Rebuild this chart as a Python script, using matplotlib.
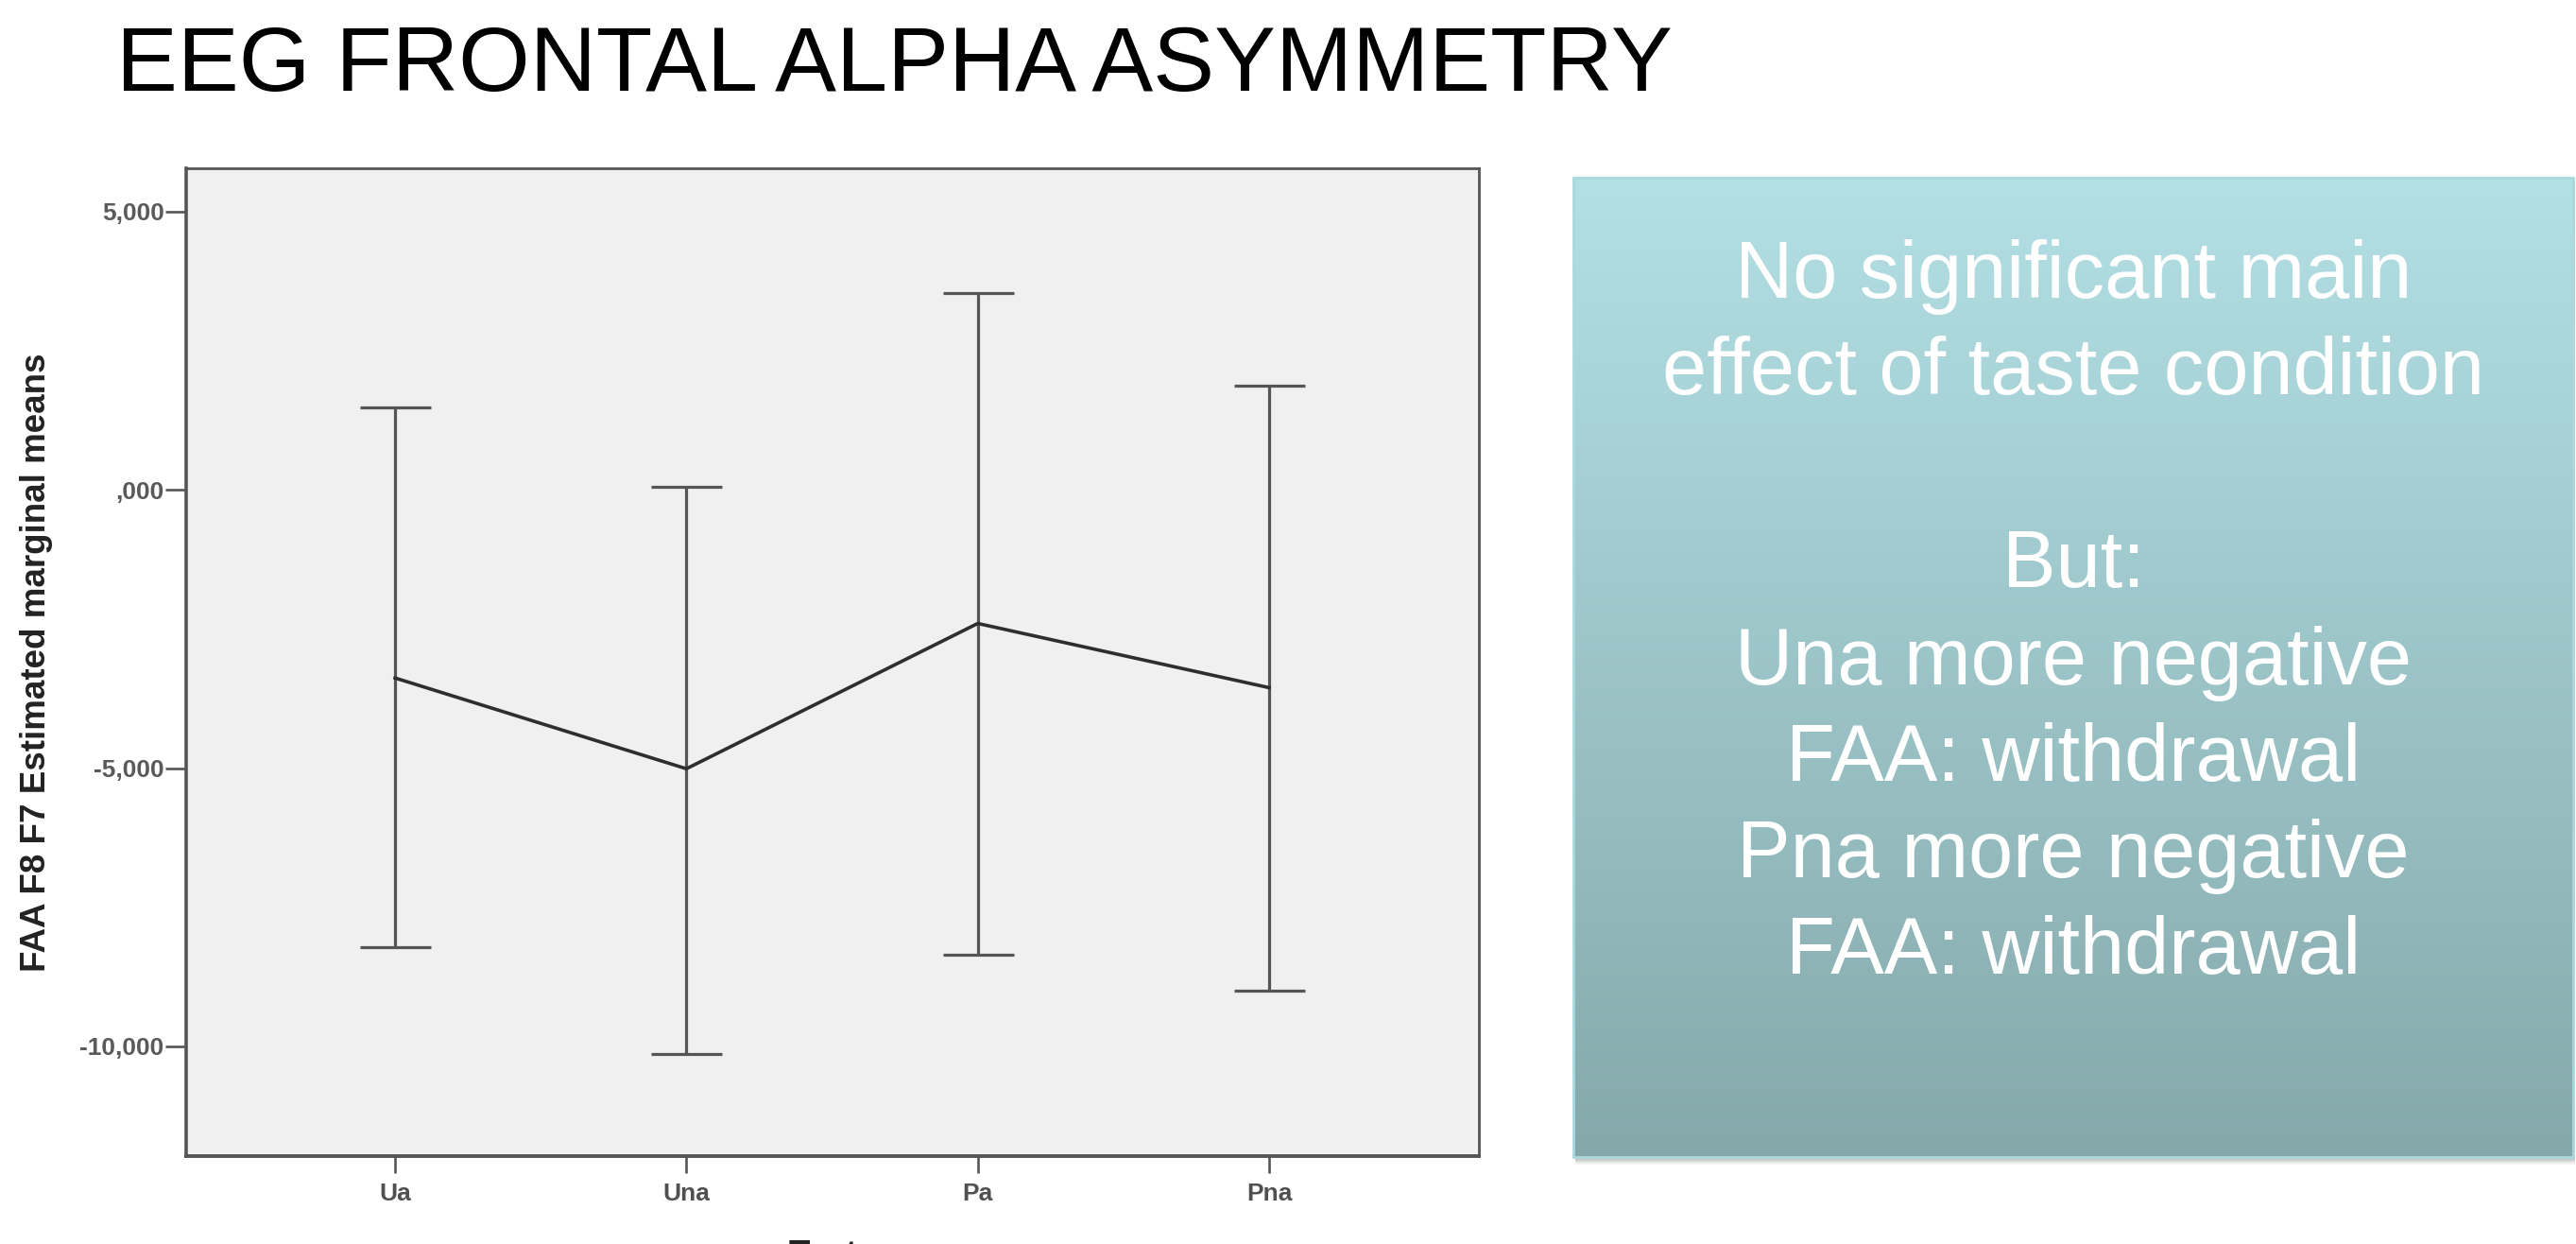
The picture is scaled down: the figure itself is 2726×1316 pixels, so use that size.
import numpy as np
import matplotlib
matplotlib.use("Agg")
import matplotlib.pyplot as plt
from matplotlib import font_manager
from matplotlib.patches import Rectangle

# ---- data ----
categories = ["Ua", "Una", "Pa", "Pna"]
means = [-3379, -5010, -2399, -3553]
ci_lower = [-8213, -10132, -8345, -8996]
ci_upper = [1488, 63, 3542, 1876]
ytick_values = [5000, 0, -5000, -10000]
ytick_labels = ["5,000", ",000", "-5,000", "-10,000"]

title = "EEG FRONTAL ALPHA ASYMMETRY"
ylabel = "FAA F8 F7 Estimated marginal means"
xlabel = "Taste"
box_lines = ["No significant main", "effect of taste condition", "",
             "But:", "Una more negative", "FAA: withdrawal",
             "Pna more negative", "FAA: withdrawal"]

names = {f.name for f in font_manager.fontManager.ttflist}
narrow = "Liberation Sans Narrow" if "Liberation Sans Narrow" in names else "Liberation Sans"
plt.rcParams["font.family"] = ["Liberation Sans", "DejaVu Sans"]

W, H = 2726, 1316
fig = plt.figure(figsize=(W / 100, H / 100), dpi=100)
fig.patch.set_facecolor("white")

def fx(px):
    return px / W

def fy(py):
    return 1 - py / H

# ---- main axes ----
ax_l, ax_r, ax_t, ax_b = 197, 1565, 178, 1223
ax = fig.add_axes([fx(ax_l), fy(ax_b), fx(ax_r - ax_l), (ax_b - ax_t) / H])
ax.set_facecolor("#f0f0f0")

x = np.arange(len(categories))
m = np.array(means, dtype=float)
lo = np.array(ci_lower, dtype=float)
hi = np.array(ci_upper, dtype=float)
ax.errorbar(x, m, yerr=[m - lo, hi - m], fmt="none", ecolor="#555555",
            elinewidth=2.3, capsize=27, capthick=2.3, zorder=2)
ax.plot(x, m, color="#2e2e2e", lw=2.6, zorder=3)

ax.set_xlim(-0.717, 3.72)
ax.set_ylim(-11971, 5781)
ax.set_xticks(x)
ax.set_xticklabels(categories)
ax.set_yticks(ytick_values)
ax.set_yticklabels(ytick_labels)
for s in ax.spines.values():
    s.set_color("#555555")
    s.set_linewidth(2.0)
ax.spines["bottom"].set_linewidth(2.8)
ax.spines["left"].set_linewidth(2.6)
ax.tick_params(axis="y", length=15.8, width=1.9, color="#555555", pad=1,
               labelsize=19, labelcolor="#5a5a5a")
ax.tick_params(axis="x", length=13, width=1.9, color="#555555", pad=7,
               labelsize=19, labelcolor="#505050")
for lab in ax.get_yticklabels() + ax.get_xticklabels():
    lab.set_family([narrow, "DejaVu Sans"])
    lab.set_fontweight("bold")

lab_size = 32 if narrow != "Liberation Sans" else 26.5
fig.text(fx(39), fy(701), ylabel, rotation=90, ha="center", va="center",
         fontsize=lab_size, fontweight="bold", family=[narrow, "DejaVu Sans"],
         color="#222222")
fig.text(fx(881), fy(1311), xlabel, ha="center", va="top",
         fontsize=lab_size, fontweight="bold", family=[narrow, "DejaVu Sans"],
         color="#222222")

# ---- title ----
fig.text(fx(123), fy(96), title, ha="left", va="baseline", fontsize=70,
         color="black")

# ---- gradient text box ----
b_l, b_r, b_t, b_b = 1665, 2723, 188, 1224
for off, alpha in [(8, 0.10), (6, 0.15), (4, 0.22)]:
    sh = Rectangle((fx(b_l + 2), fy(b_b + off)), fx(b_r - b_l), (b_b - b_t) / H,
                   transform=fig.transFigure, facecolor="#808080", alpha=alpha,
                   edgecolor="none", zorder=-1)
    fig.patches.append(sh)
bax = fig.add_axes([fx(b_l), fy(b_b), fx(b_r - b_l), (b_b - b_t) / H])
bax.set_zorder(1)
top_c = np.array([179, 224, 229]) / 255
bot_c = np.array([133, 169, 171]) / 255
t = np.linspace(0, 1, 256)[:, None]
grad = (top_c[None, :] * (1 - t) + bot_c[None, :] * t)[:, None, :]
bax.imshow(grad, aspect="auto", extent=[0, 1, 0, 1], origin="upper")
bax.set_xlim(0, 1)
bax.set_ylim(0, 1)
bax.axis("off")
bax.add_patch(Rectangle((0, 0), 1, 1, transform=bax.transAxes, fill=False,
                        edgecolor="#a9d9dd", lw=2.0, clip_on=False))

base0 = 314.6
step = (1030.2 - 314.6) / 7
cx = (b_l + b_r) / 2
for i, line in enumerate(box_lines):
    if not line:
        continue
    fig.text(fx(cx), fy(base0 + i * step), line, ha="center", va="baseline",
             fontsize=61, color="white", zorder=5)

fig.savefig("out.png", dpi=100)
